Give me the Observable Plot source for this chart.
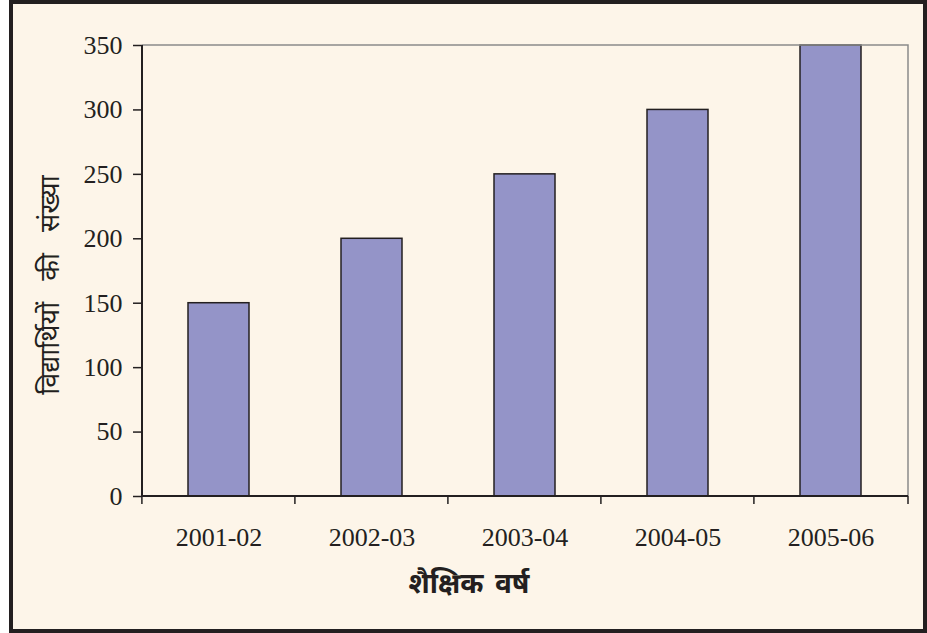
<!DOCTYPE html>
<html>
<head>
<meta charset="utf-8">
<script src="https://cdn.jsdelivr.net/npm/d3@7"></script>
<script src="https://cdn.jsdelivr.net/npm/@observablehq/plot@0.6"></script>
<style>
  html, body { margin: 0; padding: 0; background: #ffffff; }
  #wrap { position: relative; width: 927px; height: 633px; overflow: hidden; }
  #frame { position: absolute; left: 9px; top: 0; width: 918px; height: 633px; box-sizing: border-box;
           border: 4px solid #231f20; background: #fdf5e9; }
  #chart { position: absolute; left: 0; top: 0; }
  .ttl { position: absolute; color: #231f20; font-family: "Noto Sans Devanagari", "Lohit Devanagari", "Mangal", "FreeSans", sans-serif; white-space: nowrap; }
  #ytitle { left: 52px; top: 285px; font-size: 27px; word-spacing: 14px; transform: translate(-50%, -50%) rotate(-90deg); }
  #xtitle { left: 469px; top: 586px; font-size: 28px; word-spacing: 4px; font-weight: bold; transform: translate(-50%, -50%); }
</style>
</head>
<body>
<div id="wrap">
  <div id="frame"></div>
  <div id="chart"></div>
  <div class="ttl" id="ytitle"></div>
  <div class="ttl" id="xtitle"></div>
</div>
<script>
const years = ["2001-02", "2002-03", "2003-04", "2004-05", "2005-06"];
const students = [150, 200, 250, 300, 350];
const yTicks = [0, 50, 100, 150, 200, 250, 300, 350];
const yTitle = "विद्यार्थियों की संख्या";
const xTitle = "शैक्षिक वर्ष";

document.getElementById("ytitle").textContent = yTitle;
document.getElementById("xtitle").textContent = xTitle;

const data = years.map((y, i) => ({year: y, count: students[i]}));

// category boundary ticks, plot border lines
function boundaryTicks(index, scales, values, dimensions) {
  const x = scales.x;
  const n = years.length;
  const left = dimensions.marginLeft;
  const right = dimensions.width - dimensions.marginRight;
  const top = dimensions.marginTop;
  const bottom = dimensions.height - dimensions.marginBottom;
  const step = (right - left) / n;
  const g = d3.create("svg:g");
  g.append("path").attr("d", `M${left},${top}H${right}V${bottom}`)
    .attr("fill", "none").attr("stroke", "#8a8a8a").attr("stroke-width", 1.5);
  g.append("path").attr("d", `M${left},${top}V${bottom}H${right}`)
    .attr("fill", "none").attr("stroke", "#231f20").attr("stroke-width", 2);
  for (let i = 0; i <= n; i++) {
    let xb;
    if (i < n && x && x.bandwidth) {
      xb = x(years[i]) - (step - x.bandwidth()) / 2;
    } else {
      xb = left + i * step;
    }
    g.append("line").attr("x1", xb).attr("x2", xb).attr("y1", bottom).attr("y2", bottom + 8)
      .attr("stroke", "#231f20").attr("stroke-width", 1.5);
  }
  return g.node();
}

const plot = Plot.plot({
  width: 927,
  height: 633,
  marginLeft: 142,
  marginRight: 19,
  marginTop: 45,
  marginBottom: 137,
  style: {background: "transparent", fontFamily: "'Liberation Serif', 'Times New Roman', serif", fontSize: "26px", color: "#231f20"},
  x: {domain: years, paddingInner: 0.6, paddingOuter: 0.3, label: null},
  y: {domain: [0, 350], label: null},
  marks: [
    Plot.barY(data, {x: "year", y: "count", fill: "#9494c8", stroke: "#231f20", strokeWidth: 1.5}),
    Plot.axisY({ticks: yTicks, tickSize: 9, tickPadding: 11, label: null, stroke: "#231f20", strokeWidth: 1.5, fontSize: 26, fill: "#231f20"}),
    Plot.axisX({tickSize: 0, tickPadding: 31, label: null, fontSize: 26, fill: "#231f20"}),
    boundaryTicks
  ]
});
document.getElementById("chart").appendChild(plot);
</script>
</body>
</html>
